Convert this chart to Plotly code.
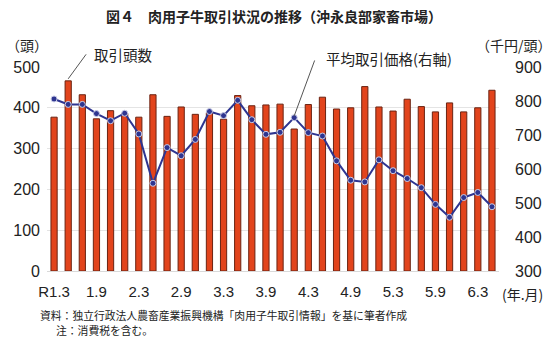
import plotly.graph_objects as go

# ---- data ----
months = ["R1.3", "R1.5", "R1.7", "R1.9", "R1.11",
          "R2.1", "R2.3", "R2.5", "R2.7", "R2.9", "R2.11",
          "R3.1", "R3.3", "R3.5", "R3.7", "R3.9", "R3.11",
          "R4.1", "R4.3", "R4.5", "R4.7", "R4.9", "R4.11",
          "R5.1", "R5.3", "R5.5", "R5.7", "R5.9", "R5.11",
          "R6.1", "R6.3", "R6.5"]

head_count = [377, 466, 432, 373, 393, 386, 377, 432, 379, 402, 384,
              388, 372, 430, 405, 407, 409, 348, 408, 426, 397, 400,
              452, 402, 392, 421, 403, 390, 412, 390, 400, 443]

avg_price = [806, 790, 790, 763, 742, 764, 703, 558, 663, 639, 687,
             769, 757, 802, 745, 702, 708, 751, 707, 697, 624, 567,
             562, 627, 595, 572, 545, 496, 458, 516, 531, 489]

tick_cats = ["R1.3", "R1.9", "R2.3", "R2.9", "R3.3", "R3.9",
             "R4.3", "R4.9", "R5.3", "R5.9", "R6.3"]
tick_text = ["R1.3", "1.9", "2.3", "2.9", "3.3", "3.9",
             "4.3", "4.9", "5.3", "5.9", "6.3"]

LAT = "Liberation Sans, Arial, sans-serif"
JP = "Noto Sans CJK JP, sans-serif"

fig = go.Figure()
fig.add_trace(go.Bar(
    x=months, y=head_count, name="取引頭数",
    marker=dict(color="#E2441C", line=dict(color="#6A2312", width=1)),
    yaxis="y",
))
fig.add_trace(go.Scatter(
    x=months, y=avg_price, name="平均取引価格(右軸)", mode="lines+markers",
    line=dict(color="#2E3590", width=2),
    marker=dict(color="#2E3590", size=6, line=dict(color="#C9CCE6", width=1)),
    yaxis="y2",
))

fig.update_layout(
    width=550, height=342,
    margin=dict(l=47, r=51.4, t=67.4, b=71.4, autoexpand=False),
    paper_bgcolor="white", plot_bgcolor="white",
    showlegend=False,
    bargap=0.56,
    xaxis=dict(
        type="category", range=[-0.5, 31.5],
        tickmode="array", tickvals=tick_cats, ticktext=tick_text,
        tickfont=dict(family=LAT, size=15, color="#222"),
        ticklabelstandoff=7,
        showgrid=False, showline=True, linecolor="#d9d9d9", linewidth=1,
        ticks="", fixedrange=True,
    ),
    yaxis=dict(
        range=[0, 500], dtick=100, tick0=0,
        tickfont=dict(family=LAT, size=16, color="#222"),
        ticklabelstandoff=6,
        showgrid=True, gridcolor="#e4e4e4", gridwidth=1,
        zeroline=False, showline=False, ticks="",
    ),
    yaxis2=dict(
        range=[300, 900], dtick=100, tick0=300,
        overlaying="y", side="right",
        tickfont=dict(family=LAT, size=16, color="#222"),
        ticklabelstandoff=15,
        showgrid=False, zeroline=False, showline=False, ticks="",
    ),
)

annos = [
    dict(text="<b>図４　肉用子牛取引状況の推移（沖永良部家畜市場）</b>", xref="paper", yref="paper",
         x=(274 - 47) / 451.6, y=(270.6 - 17) / 203.2, xanchor="center", yanchor="middle",
         showarrow=False, font=dict(family=JP, size=14, color="#222")),
    dict(text="（頭）", xref="paper", yref="paper",
         x=(27 - 47) / 451.6, y=(270.6 - 45) / 203.2, xanchor="center", yanchor="middle",
         showarrow=False, font=dict(family=JP, size=14, color="#222")),
    dict(text="（千円/頭）", xref="paper", yref="paper",
         x=(514 - 47) / 451.6, y=(270.6 - 45) / 203.2, xanchor="center", yanchor="middle",
         showarrow=False, font=dict(family=JP, size=14, color="#222")),
    dict(text="(年.月)", xref="paper", yref="paper",
         x=(522 - 47) / 451.6, y=(270.6 - 294) / 203.2, xanchor="center", yanchor="middle",
         showarrow=False, font=dict(family=JP, size=14, color="#222")),
    dict(text="取引頭数", xref="paper", yref="paper",
         x=(92 - 47) / 451.6, y=(270.6 - 55) / 203.2, xanchor="left", yanchor="middle",
         showarrow=False, font=dict(family=JP, size=14.5, color="#222")),
    dict(text="平均取引価格(右軸)", xref="paper", yref="paper",
         x=(324 - 47) / 451.6, y=(270.6 - 59) / 203.2, xanchor="left", yanchor="middle",
         showarrow=False, font=dict(family=JP, size=14.5, color="#222")),
    dict(text="資料：独立行政法人農畜産業振興機構「肉用子牛取引情報」を基に筆者作成", xref="paper", yref="paper",
         x=(38 - 47) / 451.6, y=(270.6 - 314) / 203.2, xanchor="left", yanchor="middle",
         showarrow=False, font=dict(family=JP, size=10.8, color="#222")),
    dict(text="注：消費税を含む。", xref="paper", yref="paper",
         x=(54 - 47) / 451.6, y=(270.6 - 329) / 203.2, xanchor="left", yanchor="middle",
         showarrow=False, font=dict(family=JP, size=10.8, color="#222")),
    # leader lines
    dict(text="", x=months[1], y=head_count[1] + 5, xref="x", yref="y",
         showarrow=True, arrowhead=0, arrowwidth=1, arrowcolor="#555",
         ax=19, ay=-26, standoff=0, startstandoff=0),
    dict(text="", x=months[17], y=avg_price[17] + 5, xref="x", yref="y2",
         showarrow=True, arrowhead=0, arrowwidth=1, arrowcolor="#555",
         ax=21, ay=-57, standoff=0, startstandoff=0),
]
fig.update_layout(annotations=annos)

fig.write_html("out.html")
